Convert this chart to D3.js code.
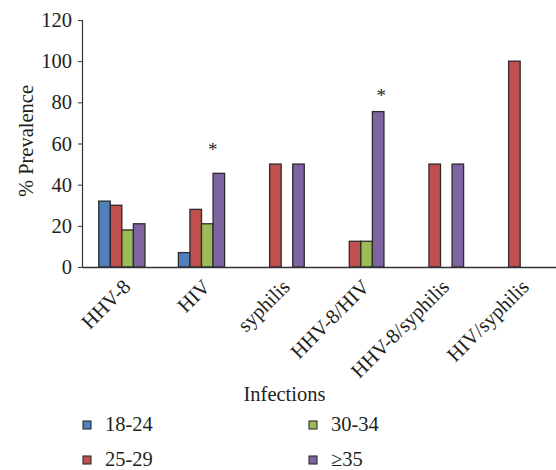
<!DOCTYPE html>
<html><head><meta charset="utf-8">
<script src="https://cdn.jsdelivr.net/npm/d3@7"></script>
<style>body{margin:0;background:#fff}svg{display:block}text{font-family:"Liberation Serif","Times New Roman",serif;fill:#231f20}</style>
</head><body><svg id="c" width="556" height="470"></svg>
<script>
const categories = ["HHV-8","HIV","syphilis","HHV-8/HIV","HHV-8/syphilis","HIV/syphilis"];
const seriesNames = ["18-24","25-29","30-34","≥35"];
const s1824 = [32, 7, 0, 0, 0, 0];
const s2529 = [30, 28, 50, 12.5, 50, 100];
const s3034 = [18, 21, 0, 12.5, 0, 0];
const s35 = [21, 45.5, 50, 75.5, 50, 0];
const colors = ["#4f81bd","#c0504d","#9bbb59","#8064a2"];
const yTicks = [0,20,40,60,80,100,120];
const starCats = ["HIV","HHV-8/HIV"];
const starVals = [54, 80];
const starDx = [-6, 3];

const series = [s1824, s2529, s3034, s35];
const FS = 20.5;
const svg = d3.select("#c");
const m = {l:82, t:20, b:267, r:560};
const x = d3.scaleBand().domain(categories).range([m.l, m.r]).paddingInner(0.42).paddingOuter(0.21);
const xs = d3.scaleBand().domain(seriesNames).range([0, x.bandwidth()]);
const y = d3.scaleLinear().domain([0,120]).range([m.b, m.t]);

// bars
series.forEach((vals, si) => {
  svg.append("g").selectAll("rect").data(categories.map((c,i)=>({c, v: vals[i]})).filter(d=>d.v>0))
    .join("rect")
    .attr("x", d => x(d.c) + xs(seriesNames[si]))
    .attr("y", d => y(d.v))
    .attr("width", xs.bandwidth())
    .attr("height", d => y(0) - y(d.v))
    .attr("fill", colors[si])
    .attr("stroke", "#2b2b2b")
    .attr("stroke-width", 1.3);
});

// y axis
const ya = svg.append("g").attr("transform", `translate(${m.l},0)`)
  .call(d3.axisLeft(y).tickValues(yTicks).tickSize(4).tickPadding(6));
ya.select(".domain").attr("stroke", "#333").attr("stroke-width", 1.2);
ya.selectAll(".tick line").attr("stroke", "#333");
ya.selectAll("text").attr("font-size", FS).attr("fill", "#231f20");

// x axis
const xa = svg.append("g").attr("transform", `translate(0,${m.b})`)
  .call(d3.axisBottom(x).tickSize(0).tickPadding(0));
xa.select(".domain").attr("stroke", "#333").attr("stroke-width", 1.5);
xa.selectAll("text").attr("font-size", FS).attr("fill", "#231f20")
  .attr("text-anchor", "end").attr("dy", 0)
  .attr("transform", "translate(10,21) rotate(-45)");

// asterisks
svg.append("g").selectAll("text").data(starCats).join("text")
  .attr("x", (d,i) => x(d) + xs("≥35") + xs.bandwidth()/2 + starDx[i])
  .attr("y", (d,i) => y(starVals[i]))
  .attr("text-anchor", "middle").attr("font-size", 19).text("*");

// y title
svg.append("text").attr("transform", "translate(33,141) rotate(-90)")
  .attr("text-anchor", "middle").attr("font-size", FS).text("% Prevalence");
// x title
svg.append("text").attr("x", 284.5).attr("y", 401).attr("text-anchor", "middle").attr("font-size", FS).text("Infections");

// legend
const leg = [[87,425],[87,460],[313,425],[313,460]];
const lg = svg.append("g");
seriesNames.forEach((name, si) => {
  const [lx, ly] = leg[si];
  lg.append("rect").attr("x", lx-4).attr("y", ly-4).attr("width", 8).attr("height", 8)
    .attr("fill", colors[si]).attr("stroke", "#2b2b2b").attr("stroke-width", 1.1);
  lg.append("text").attr("x", lx+18).attr("y", ly+5.5).attr("font-size", FS).text(name);
});
</script></body></html>
